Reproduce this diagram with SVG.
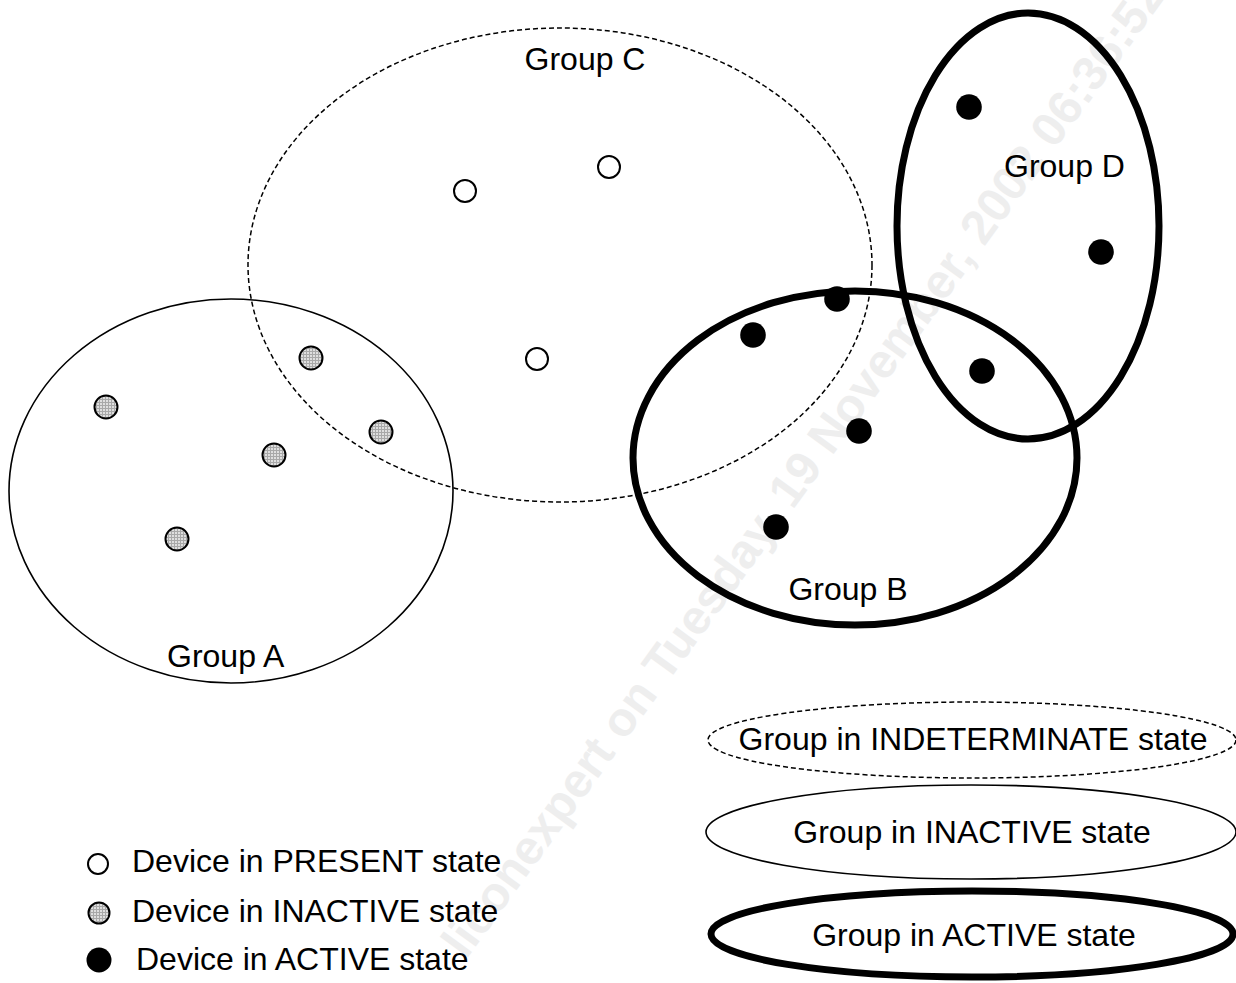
<svg xmlns="http://www.w3.org/2000/svg" width="1236" height="983" viewBox="0 0 1236 983">
  <style>
    .lbl { font-family: "Liberation Sans", Arial, sans-serif; font-size: 32px; fill: #000; }
    .mid { text-anchor: middle; }
    .grp { fill: none; stroke: #000; }
    .indet { stroke-width: 1.5; stroke-dasharray: 5 3; }
    .inact { stroke-width: 1.6; }
    .act { stroke-width: 7; }
    .dev { stroke: #000; stroke-width: 2; }
    .present { fill: #fff; }
    .inactive { fill: url(#mesh); }
    .active { fill: #000; stroke: none; }
    .stamp { font-family: "Liberation Sans", Arial, sans-serif; font-size: 48px; font-weight: bold; fill: #eeeeee; }
  </style>
  <defs>
    <!-- fine grey screen used for inactive devices -->
    <pattern id="mesh" width="3" height="3" patternUnits="userSpaceOnUse">
      <rect width="3" height="3" fill="#dedede"/>
      <rect width="3" height="1" fill="#a8a8a8"/>
      <rect width="1" height="3" fill="#a8a8a8"/>
    </pattern>
  </defs>

  <rect width="1236" height="983" fill="#fff"/>

  <!-- background stamp -->
  <text class="stamp" transform="translate(466,960) rotate(-54)">liconexpert on Tuesday, 19 November, 2002 06:36:52</text>

  <!-- group outlines -->
  <g id="group-a">
    <ellipse class="grp inact" cx="231" cy="491" rx="222" ry="192"/>
    <text class="lbl" x="167" y="667">Group A</text>
  </g>
  <g id="group-c">
    <ellipse class="grp indet" cx="560" cy="265" rx="312" ry="237"/>
    <text class="lbl mid" x="585" y="70">Group C</text>
  </g>
  <g id="group-b">
    <ellipse class="grp act" cx="855" cy="458" rx="222" ry="167"/>
    <text class="lbl mid" x="848" y="600">Group B</text>
  </g>
  <g id="group-d">
    <ellipse class="grp act" cx="1028" cy="226" rx="131" ry="213"/>
    <text class="lbl" x="1004" y="177">Group D</text>
  </g>

  <!-- devices -->
  <g id="devices-present">
    <circle class="dev present" cx="465" cy="191" r="11"/>
    <circle class="dev present" cx="609" cy="167" r="11"/>
    <circle class="dev present" cx="537" cy="359" r="11"/>
  </g>
  <g id="devices-inactive">
    <circle class="dev inactive" cx="106" cy="407" r="11.5"/>
    <circle class="dev inactive" cx="311" cy="358" r="11.5"/>
    <circle class="dev inactive" cx="381" cy="432" r="11.5"/>
    <circle class="dev inactive" cx="274" cy="455" r="11.5"/>
    <circle class="dev inactive" cx="177" cy="539" r="11.5"/>
  </g>
  <g id="devices-active">
    <circle class="active" cx="969" cy="107" r="12.8"/>
    <circle class="active" cx="1101" cy="252" r="12.8"/>
    <circle class="active" cx="837" cy="299" r="12.8"/>
    <circle class="active" cx="753" cy="335" r="12.8"/>
    <circle class="active" cx="982" cy="371" r="12.8"/>
    <circle class="active" cx="859" cy="431" r="12.8"/>
    <circle class="active" cx="776" cy="527" r="12.8"/>
  </g>

  <!-- connectors: none in this figure -->
  <g id="connectors"/>

  <!-- group state legend -->
  <g id="legend-group-indeterminate">
    <ellipse class="grp indet" cx="972" cy="740" rx="264" ry="38"/>
    <text class="lbl mid" x="973" y="750">Group in INDETERMINATE state</text>
  </g>
  <g id="legend-group-inactive">
    <ellipse class="grp inact" cx="971" cy="832" rx="265" ry="47"/>
    <text class="lbl mid" x="972" y="843">Group in INACTIVE state</text>
  </g>
  <g id="legend-group-active">
    <ellipse class="grp act" cx="972" cy="934" rx="261" ry="43"/>
    <text class="lbl mid" x="974" y="946">Group in ACTIVE state</text>
  </g>

  <!-- device state legend -->
  <g id="legend-device-present">
    <circle class="dev present" cx="98" cy="864" r="10"/>
    <text class="lbl" x="132" y="872">Device in PRESENT state</text>
  </g>
  <g id="legend-device-inactive">
    <circle class="dev inactive" cx="99" cy="913" r="10.5"/>
    <text class="lbl" x="132" y="922">Device in INACTIVE state</text>
  </g>
  <g id="legend-device-active">
    <circle class="active" cx="99" cy="960" r="12.5"/>
    <text class="lbl" x="136" y="970">Device in ACTIVE state</text>
  </g>
</svg>
